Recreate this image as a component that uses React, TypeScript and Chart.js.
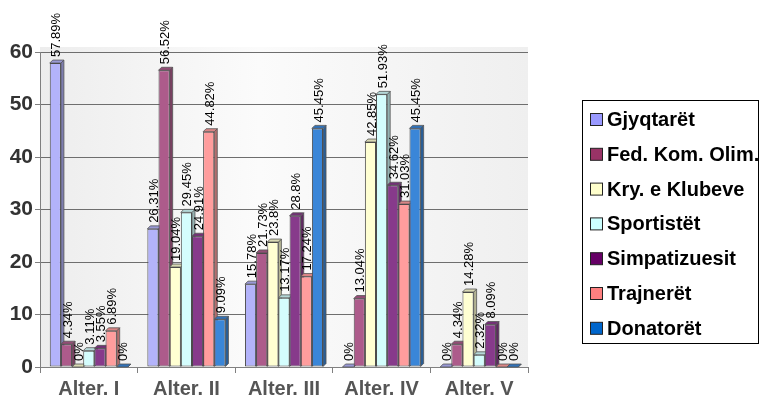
import React, { useEffect, useRef } from "react";
import { Chart, registerables } from "chart.js";

Chart.register(...registerables);

const categories = ["Alter. I", "Alter. II", "Alter. III", "Alter. IV", "Alter. V"];
const seriesNames = [
  "Gjyqtarët",
  "Fed. Kom. Olim.",
  "Kry. e Klubeve",
  "Sportistët",
  "Simpatizuesit",
  "Trajnerët",
  "Donatorët",
];
const gjyqtaret = [57.89, 26.31, 15.78, 0, 0];
const fedKomOlim = [4.34, 56.52, 21.73, 13.04, 4.34];
const kryKlubeve = [0, 19.04, 23.8, 42.85, 14.28];
const sportistet = [3.11, 29.45, 13.17, 51.93, 2.32];
const simpatizuesit = [3.55, 24.91, 28.8, 34.62, 8.09];
const trajneret = [6.89, 44.82, 17.24, 31.03, 0];
const donatoret = [0, 9.09, 45.45, 45.45, 0];
const seriesValues = [gjyqtaret, fedKomOlim, kryKlubeve, sportistet, simpatizuesit, trajneret, donatoret];

const barColors = ["#b3b3fa", "#ad5b8b", "#ffffd2", "#d4fdfd", "#873a8b", "#ff9d9d", "#3a86d8"];
const legendColors = ["#9999ff", "#993366", "#ffffcc", "#ccffff", "#660066", "#ff8080", "#0066cc"];
const yTicks = [0, 10, 20, 30, 40, 50, 60];

function shade(hex: string, f: number): string {
  const n = parseInt(hex.slice(1), 16);
  const r = Math.round(((n >> 16) & 255) * f);
  const g = Math.round(((n >> 8) & 255) * f);
  const b = Math.round((n & 255) * f);
  return `rgb(${r},${g},${b})`;
}

const bgPlugin = {
  id: "bgPlugin",
  beforeDraw(chart: any) {
    const { ctx, chartArea } = chart;
    const { left, right, top, bottom } = chartArea;
    const g = ctx.createLinearGradient(left, 0, right, 0);
    g.addColorStop(0, "#ededed");
    g.addColorStop(0.45, "#fbfbfb");
    g.addColorStop(1, "#efefef");
    ctx.save();
    ctx.fillStyle = g;
    ctx.fillRect(left, top - 5, right - left, bottom - top + 5);
    ctx.restore();
  },
};

const depthPlugin = {
  id: "depthPlugin",
  beforeDatasetsDraw(chart: any) {
    const ctx = chart.ctx;
    const d = 3;
    ctx.save();
    chart.data.datasets.forEach((ds: any, i: number) => {
      const meta = chart.getDatasetMeta(i);
      const color = barColors[i];
      meta.data.forEach((el: any) => {
        const { x, y, base, width } = el.getProps(["x", "y", "base", "width"], true);
        const l = x - width / 2;
        const r = x + width / 2;
        ctx.beginPath();
        ctx.moveTo(r, y);
        ctx.lineTo(r + d, y - d);
        ctx.lineTo(r + d, base - d);
        ctx.lineTo(r, base);
        ctx.closePath();
        ctx.fillStyle = shade(color, 0.7);
        ctx.fill();
        ctx.strokeStyle = "#555";
        ctx.lineWidth = 0.8;
        ctx.stroke();
        ctx.beginPath();
        ctx.moveTo(l, y);
        ctx.lineTo(l + d, y - d);
        ctx.lineTo(r + d, y - d);
        ctx.lineTo(r, y);
        ctx.closePath();
        ctx.fillStyle = shade(color, 0.85);
        ctx.fill();
        ctx.stroke();
      });
    });
    ctx.restore();
  },
};

const labelPlugin = {
  id: "labelPlugin",
  afterDatasetsDraw(chart: any) {
    const ctx = chart.ctx;
    ctx.save();
    ctx.font = "13px 'Liberation Sans', Arial, sans-serif";
    ctx.fillStyle = "#000";
    ctx.textAlign = "left";
    ctx.textBaseline = "middle";
    chart.data.datasets.forEach((ds: any, i: number) => {
      const meta = chart.getDatasetMeta(i);
      meta.data.forEach((el: any, j: number) => {
        const { x, y } = el.getProps(["x", "y"], true);
        ctx.save();
        ctx.translate(x + 1.5, y - 6);
        ctx.rotate(-Math.PI / 2);
        ctx.fillText(`${ds.data[j]}%`, 0, 0);
        ctx.restore();
      });
    });
    ctx.restore();
  },
};

const legendPlugin = {
  id: "legendPlugin",
  afterDraw(chart: any) {
    const ctx = chart.ctx;
    const bx = 582.5;
    const by = 100.5;
    const bw = 176;
    const bh = 243;
    ctx.save();
    ctx.strokeStyle = "#000";
    ctx.lineWidth = 1;
    ctx.strokeRect(bx, by, bw, bh);
    ctx.font = "bold 20px 'Liberation Sans', Arial, sans-serif";
    ctx.textBaseline = "middle";
    ctx.textAlign = "left";
    seriesNames.forEach((name, i) => {
      const cy = 119.5 + i * 34.8;
      ctx.fillStyle = legendColors[i];
      ctx.fillRect(590.5, cy - 6, 12, 12);
      ctx.strokeStyle = "#222";
      ctx.strokeRect(590.5, cy - 6, 12, 12);
      ctx.fillStyle = "#000";
      ctx.fillText(name, 607, cy + 1);
    });
    ctx.restore();
  },
};

export default function App() {
  const ref = useRef<HTMLCanvasElement | null>(null);
  useEffect(() => {
    if (!ref.current) return;
    const chart = new Chart(ref.current, {
      type: "bar",
      data: {
        labels: categories,
        datasets: seriesNames.map((name, i) => ({
          label: name,
          data: seriesValues[i],
          backgroundColor: barColors[i],
          borderColor: "#4a4a4a",
          borderWidth: 1,
          borderSkipped: false,
          categoryPercentage: 0.8,
          barPercentage: 1,
        })),
      },
      options: {
        responsive: false,
        animation: false,
        maintainAspectRatio: false,
        layout: { padding: { left: 0, right: 232, top: 52, bottom: 0 } },
        plugins: {
          legend: { display: false },
          tooltip: { enabled: false },
          title: { display: false },
        },
        scales: {
          x: {
            grid: {
              display: true,
              drawOnChartArea: false,
              offset: true,
              tickLength: 6,
              color: "#808080",
            },
            border: { color: "#808080", width: 1 },
            ticks: {
              color: "#555",
              padding: 4,
              font: { family: "'Liberation Sans', Arial, sans-serif", size: 20, weight: "bold" },
            },
            afterFit(scale: any) {
              scale.height = 34;
            },
          },
          y: {
            min: yTicks[0],
            max: yTicks[yTicks.length - 1],
            afterBuildTicks(scale: any) {
              scale.ticks = yTicks.map((v) => ({ value: v }));
            },
            grid: {
              color: "#6e6e6e",
              tickLength: 5,
              tickColor: "#808080",
              lineWidth: 1,
            },
            border: { color: "#808080", width: 1 },
            ticks: {
              color: "#333",
              padding: 2,
              font: { family: "'Liberation Sans', Arial, sans-serif", size: 21, weight: "bold" },
            },
            afterFit(scale: any) {
              scale.width = 40;
            },
          },
        },
      },
      plugins: [bgPlugin, depthPlugin, labelPlugin, legendPlugin],
    } as any);
    return () => chart.destroy();
  }, []);
  return (
    <div style={{ position: "absolute", left: 0, top: 0, width: 760, height: 401, background: "#fff" }}>
      <canvas ref={ref} width={760} height={401} style={{ width: 760, height: 401, display: "block" }} />
    </div>
  );
}
